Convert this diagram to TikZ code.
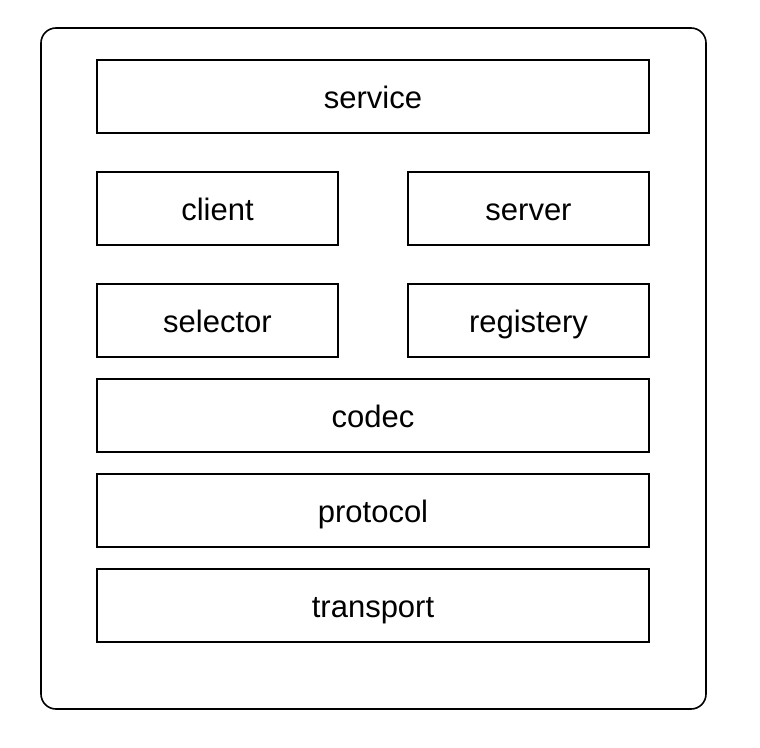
\documentclass[tikz,border=0pt]{standalone}
\usepackage{fontspec}
\setmainfont{Liberation Sans}
\begin{document}
\begin{tikzpicture}[x=1pt,y=-1pt,
  box/.style={draw=black, line width=1.6pt, rectangle, minimum height=73pt, inner sep=0pt,
    text height=24pt, text depth=0pt,
    font=\fontsize{31}{36}\selectfont},
  wide/.style={box, minimum width=552pt},
  half/.style={box, minimum width=241pt},
  frame/.style={draw=black, line width=1.6pt, rounded corners=15pt, rectangle, inner sep=0pt}]
\useasboundingbox (0,0) rectangle (760,747);
\node[frame, minimum width=665pt, minimum height=681pt] (outer) at (373.5,368.5) {};
\node[wide] (service) at (373,96.5) {service};
\node[half] (client) at (217.5,208.5) {client};
\node[half] (server) at (528.5,208.5) {server};
\node[half] (selector) at (217.5,320.5) {selector};
\node[half] (registery) at (528.5,320.5) {registery};
\node[wide] (codec) at (373,415.5) {codec};
\node[wide] (protocol) at (373,510.5) {protocol};
\node[wide] (transport) at (373,605.5) {transport};
\end{tikzpicture}
\end{document}
